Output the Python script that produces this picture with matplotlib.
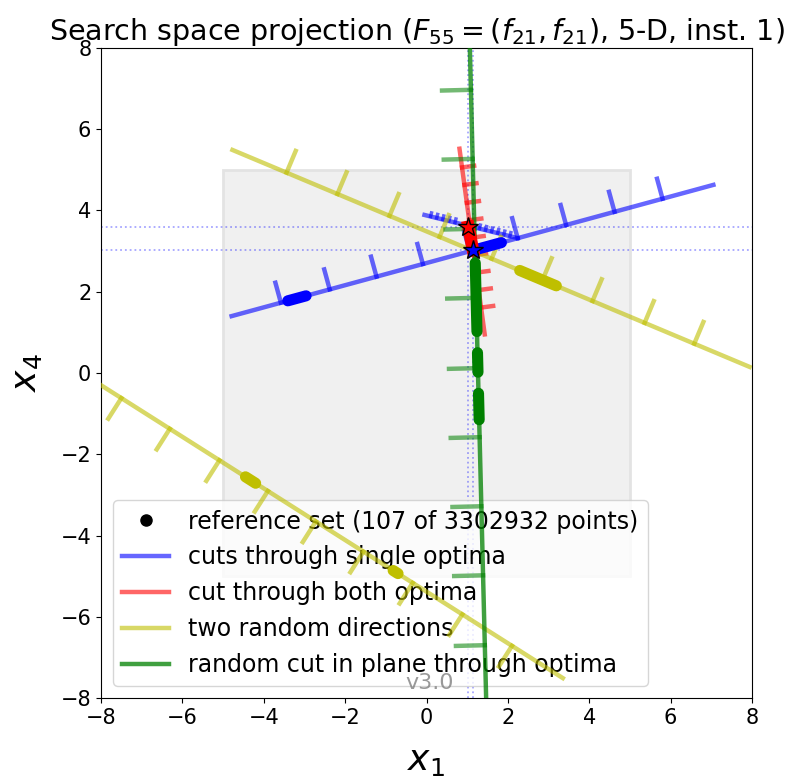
import matplotlib.pyplot as plt
import numpy as np

# optima (x1, x4)
opt_red = (1.03, 3.60)
opt_blue = (1.14, 3.03)

# cuts: end points and tick positions (along x or y)
blue_long = [(-4.79, 1.40), (7.05, 4.63)]
blue_long_ticks = [-3.58, -2.38, -1.23, -0.09, 1.06, 2.24, 3.43, 4.62, 5.80]
blue_long_thick = [(-3.41, -2.96), (1.14, 1.84)]

blue_short = [(-0.05, 3.89), (2.24, 3.32)]
blue_short_ticks = [0.10, 0.25, 0.40, 0.55, 0.70, 1.30, 1.45, 1.60, 1.75, 1.90, 2.05]

red_cut = [(0.81, 5.52), (1.43, 0.95)]
red_ticks = [5.06, 4.63, 4.19, 3.76, 3.33, 2.90, 2.47, 2.04, 1.61]

yellow_1 = [(-4.77, 5.49), (7.94, 0.15)]
yellow_1_ticks = [-3.44, -2.19, -0.91, 0.32, 1.60, 2.85, 4.08, 5.36, 6.58]
yellow_1_thick = [(2.29, 3.19)]

yellow_2 = [(-8.3, -0.11), (3.35, -7.51)]
yellow_2_ticks = [-7.50, -6.31, -5.09, -3.90, -2.72, -1.55, -0.34, 0.88, 2.10]
yellow_2_thick = [(-4.45, -4.20), (-0.82, -0.70)]

green_cut = [(1.04, 9.0), (1.49, -9.0)]
green_ticks = [6.97, 5.27, 3.55, 1.85, 0.12, -1.58, -3.28, -4.98, -6.70]
green_thick = [(2.71, 1.02), (0.50, 0.02), (-0.50, -1.15)]


def point_on(p0, p1, v, along):
    i = 0 if along == 'x' else 1
    t = (v - p0[i]) / (p1[i] - p0[i])
    return p0 + t * (p1 - p0)


def cut(ax, ends, ticks, along, tick_len, side, color, alpha, lw=3.2,
        tick_alpha=None, tick_lw=None, label=None):
    p0, p1 = np.array(ends[0]), np.array(ends[1])
    ax.plot([p0[0], p1[0]], [p0[1], p1[1]], color=color, alpha=alpha, lw=lw,
            label=label, zorder=3)
    d = (p1 - p0) / np.linalg.norm(p1 - p0)
    n = np.array([-d[1], d[0]]) * side
    for v in ticks:
        b = point_on(p0, p1, v, along)
        e = b + n * tick_len
        ax.plot([b[0], e[0]], [b[1], e[1]], color=color,
                alpha=tick_alpha or alpha, lw=tick_lw or lw, zorder=3)


def thick(ax, ends, segs, along, color, lw=8):
    p0, p1 = np.array(ends[0]), np.array(ends[1])
    for a, b in segs:
        pa = point_on(p0, p1, a, along)
        pb = point_on(p0, p1, b, along)
        ax.plot([pa[0], pb[0]], [pa[1], pb[1]], color=color, lw=lw,
                solid_capstyle='round', zorder=4)


fig = plt.figure(figsize=(7.98, 7.80), dpi=100)
ax = fig.add_axes([0.1266, 0.1051, 0.8158, 0.8334])

# search domain
ax.add_patch(plt.Rectangle((-5, -5), 10, 10, facecolor='#f0f0f0',
                           edgecolor='#e3e3e3', lw=2, zorder=0))

# dotted helper lines through the optima
for o in (opt_red, opt_blue):
    ax.axhline(o[1], color='b', alpha=0.35, ls=':', lw=1.3, zorder=1)
    ax.axvline(o[0], color='b', alpha=0.35, ls=':', lw=1.3, zorder=1)

ax.plot([], [], 'ko', ms=8, label='reference set (107 of 3302932 points)')

cut(ax, blue_long, blue_long_ticks, 'x', 0.51, 1, 'b', 0.6,
    label='cuts through single optima')
cut(ax, blue_short, blue_short_ticks, 'x', 0.09, 1, 'b', 0.6, tick_lw=2.5)
cut(ax, red_cut, red_ticks, 'y', 0.30, 1, 'r', 0.6, label='cut through both optima')
cut(ax, yellow_1, yellow_1_ticks, 'x', 0.58, 1, 'y', 0.6,
    label='two random directions')
cut(ax, yellow_2, yellow_2_ticks, 'x', 0.60, -1, 'y', 0.6)
cut(ax, green_cut, green_ticks, 'y', 0.71, -1, 'g', 0.75, tick_alpha=0.55,
    label='random cut in plane through optima')

thick(ax, blue_long, blue_long_thick, 'x', 'b')
thick(ax, yellow_1, yellow_1_thick, 'x', 'y')
thick(ax, yellow_2, yellow_2_thick, 'x', 'y')
thick(ax, green_cut, green_thick, 'y', 'g')
ax.plot([opt_red[0], opt_blue[0]], [opt_red[1], opt_blue[1]], color='r', lw=9,
        zorder=4)

ax.plot(*opt_red, marker='*', color='r', mec='k', ms=15, zorder=6)
ax.plot(*opt_blue, marker='*', color='b', mec='k', ms=15, zorder=6)

ax.text(0.505, 0.008, 'v3.0', transform=ax.transAxes, ha='center', va='bottom',
        color='gray', alpha=0.8, fontsize=16, zorder=7)

ax.set_xlim(-8, 8)
ax.set_ylim(-8, 8)
ax.set_xticks(range(-8, 9, 2))
ax.set_yticks(range(-8, 9, 2))
ax.tick_params(labelsize=15)
ax.set_xlabel('$x_1$', fontsize=26, labelpad=12)
ax.set_ylabel('$x_4$', fontsize=26, labelpad=12)
ax.set_title(r'Search space projection ($F_{55}=(f_{21},f_{21})$, 5-D, inst. 1)',
             fontsize=20.5, x=0.485, pad=4)
leg = ax.legend(loc='lower left', fontsize=17)
leg.set_zorder(2)

fig.savefig('out.png', dpi=100)
